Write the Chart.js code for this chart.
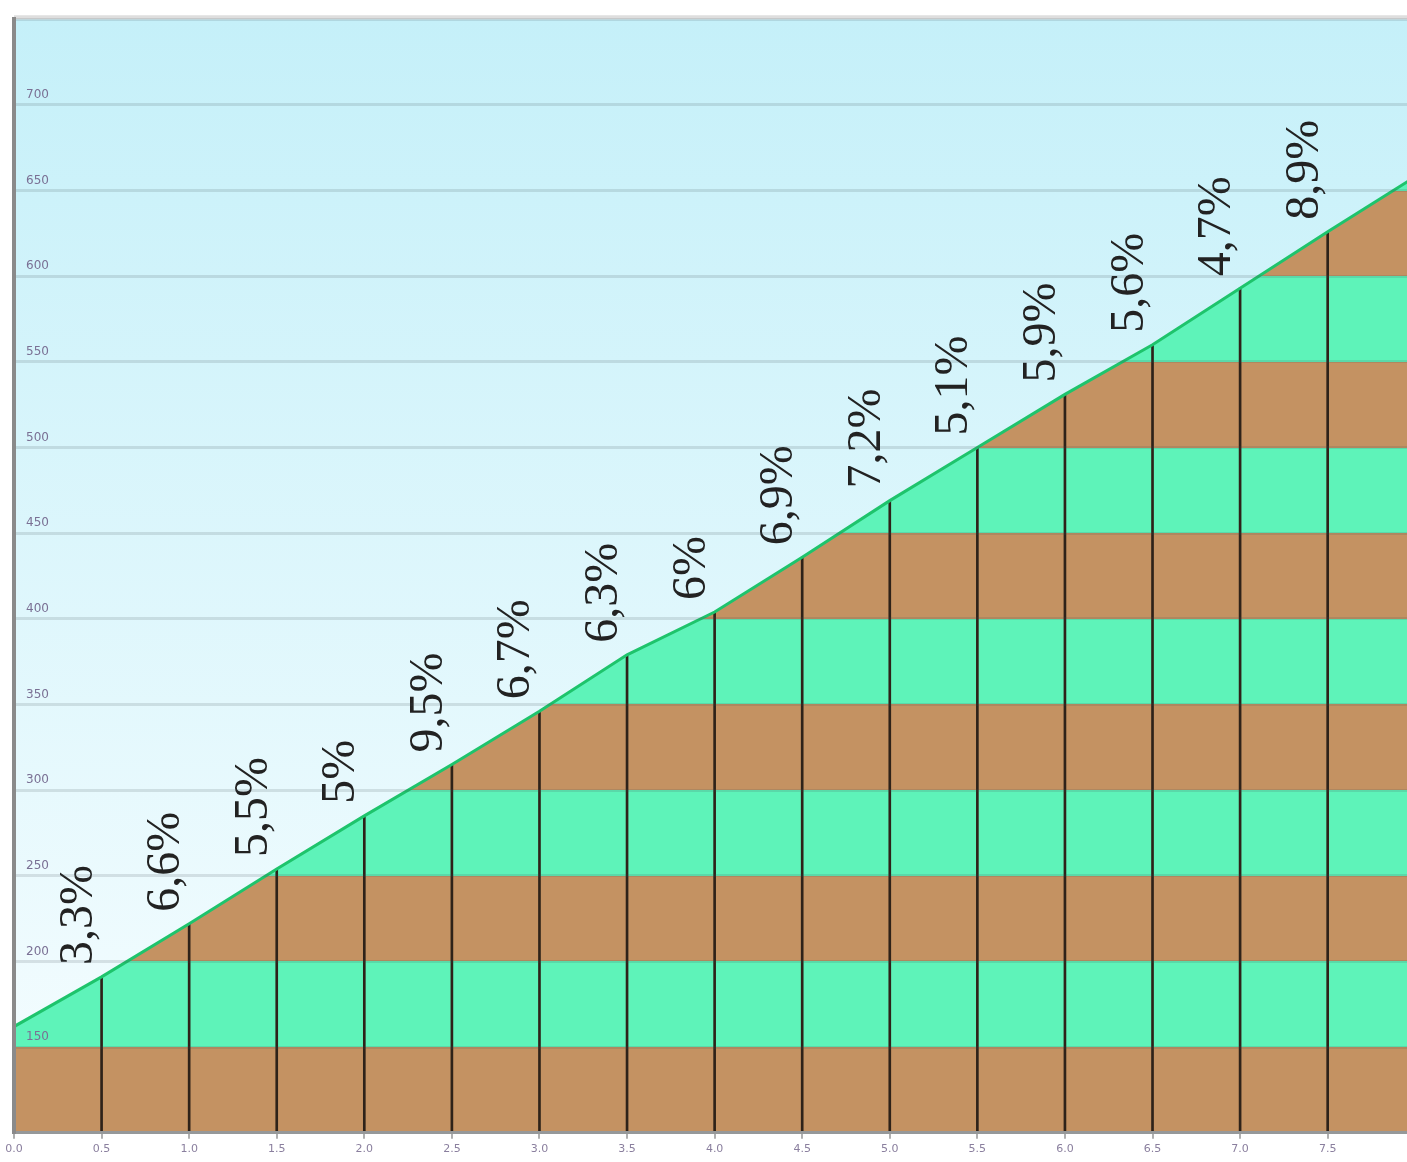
<!DOCTYPE html>
<html>
<head>
<meta charset="utf-8">
<script src="https://cdn.jsdelivr.net/npm/chart.js@4.4.1/dist/chart.umd.min.js"></script>
<style>
  html, body { margin: 0; padding: 0; background: #fff; overflow: hidden; }
  #wrap { width: 1428px; height: 1162px; }
</style>
</head>
<body>
<div id="wrap"><canvas id="profile"></canvas></div>
<script>
// distance (km) and altitude (m)
const km = [0, 0.5, 1.0, 1.5, 2.0, 2.5, 3.0, 3.5, 4.0, 4.5, 5.0, 5.5, 6.0, 6.5, 7.0, 7.5, 8.0];
const altitude = [162, 191, 222, 254, 285, 315, 346, 379, 404, 436, 469, 500, 531, 560, 593, 626, 658];

// gradient of each 500 m stretch (last one is not shown)
const slopes = ['3,3%', '6,6%', '5,5%', '5%', '9,5%', '6,7%', '6,3%', '6%', '6,9%', '7,2%', '5,1%', '5,9%', '5,6%', '4,7%', '8,9%'];

// altitude bands of the filled profile
const bandEdges = [100, 150, 200, 250, 300, 350, 400, 450, 500, 550, 600, 650, 700, 750];
const bandColors = ['#c49262', '#5ef3b9'];

const profilePoints = km.map((x, i) => ({ x: x, y: altitude[i] }));
const markerPoints = km.slice(1, -1).map((x, i) => ({ x: x, y: altitude[i + 1] }));

// horizontal stripes built from the y scale
function bandFill(context) {
  const chart = context.chart;
  const area = chart.chartArea;
  if (!area) return bandColors[0];
  const y = chart.scales.y;
  const top = y.getPixelForValue(bandEdges[bandEdges.length - 1]);
  const bottom = y.getPixelForValue(bandEdges[0]);
  const g = chart.ctx.createLinearGradient(0, bottom, 0, top);
  const span = bandEdges[bandEdges.length - 1] - bandEdges[0];
  for (let i = 0; i < bandEdges.length - 1; i++) {
    const a = (bandEdges[i] - bandEdges[0]) / span;
    const b = (bandEdges[i + 1] - bandEdges[0]) / span;
    const col = bandColors[i % 2];
    g.addColorStop(a, col);
    g.addColorStop(b, col);
  }
  return g;
}

// sky behind the chart area
const skyPlugin = {
  id: 'sky',
  beforeDraw(chart) {
    const { ctx, chartArea } = chart;
    ctx.save();
    const g = ctx.createLinearGradient(0, chartArea.top, 0, chartArea.bottom);
    g.addColorStop(0, '#c5f0f9');
    g.addColorStop(1, '#f6fdff');
    ctx.fillStyle = g;
    ctx.fillRect(chartArea.left, chartArea.top, chartArea.right - chartArea.left, chartArea.bottom - chartArea.top);
    ctx.strokeStyle = '#dedede';
    ctx.lineWidth = 4;
    ctx.beginPath();
    ctx.moveTo(chartArea.left, chartArea.top - 2);
    ctx.lineTo(chartArea.right, chartArea.top - 2);
    ctx.stroke();
    ctx.restore();
  }
};

// slope labels, rotated, at the end of each stretch
const slopePlugin = {
  id: 'slopes',
  afterDatasetsDraw(chart) {
    const { ctx, scales } = chart;
    ctx.save();
    ctx.font = '48px "Liberation Serif", serif';
    ctx.fillStyle = '#222';
    ctx.textAlign = 'left';
    ctx.textBaseline = 'alphabetic';
    slopes.forEach((txt, i) => {
      const px = scales.x.getPixelForValue(km[i + 1]) - 10;
      const py = scales.y.getPixelForValue(altitude[i + 1]) - 12;
      ctx.save();
      ctx.translate(px, py);
      ctx.rotate(-Math.PI / 2);
      ctx.fillText(txt, 0, 0);
      ctx.restore();
    });
    ctx.restore();
  }
};

const ctx = document.getElementById('profile').getContext('2d');
new Chart(ctx, {
  type: 'line',
  data: {
    datasets: [
      {
        label: 'Perfil',
        data: profilePoints,
        borderColor: '#1ec46c',
        borderWidth: 3,
        pointRadius: 0,
        tension: 0,
        fill: 'start',
        backgroundColor: bandFill,
        order: 0
      },
      {
        type: 'bar',
        label: 'km',
        data: markerPoints,
        backgroundColor: '#2e2219',
        barThickness: 2,
        order: 1
      }
    ]
  },
  options: {
    responsive: true,
    maintainAspectRatio: false,
    animation: false,
    layout: { padding: { top: 11, left: -10, right: 0, bottom: 2 } },
    plugins: {
      legend: { display: false },
      tooltip: { enabled: false },
      filler: { drawTime: 'beforeDatasetsDraw' }
    },
    scales: {
      x: {
        type: 'linear',
        min: 0,
        max: 8,
        offset: false,
        ticks: {
          stepSize: 0.5,
          callback: v => v.toFixed(1),
          color: '#8a7f9e',
          font: { size: 11, family: 'DejaVu Sans' },
          padding: 4,
          maxRotation: 0
        },
        grid: { offset: false, drawOnChartArea: false, color: '#b0b0b0', tickLength: 6, lineWidth: 2 },
        border: { color: '#a6a6a6', width: 3, z: 1 }
      },
      y: {
        min: 100,
        max: 750,
        ticks: {
          z: 1,
          stepSize: 50,
          autoSkip: false,
          mirror: true,
          padding: 12,
          labelOffset: -10,
          callback: v => (v === 100 || v === 750) ? '' : String(v),
          color: '#7a7094',
          font: { size: 12, family: 'DejaVu Sans' }
        },
        grid: { z: 1, color: 'rgba(60,75,80,0.15)', lineWidth: 3, drawTicks: false },
        border: { color: '#8a8a8a', width: 4, z: 1 }
      }
    }
  },
  plugins: [skyPlugin, slopePlugin]
});
</script>
</body>
</html>
